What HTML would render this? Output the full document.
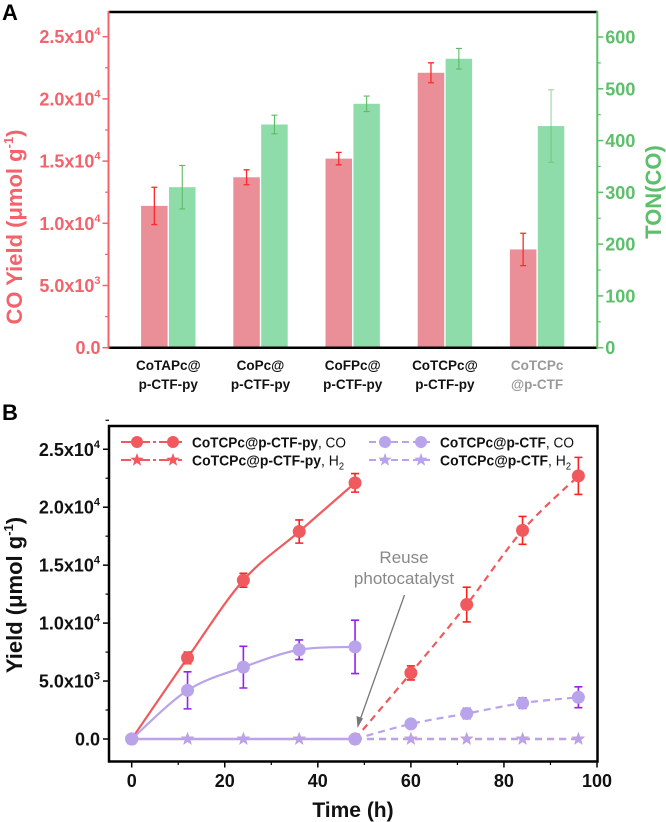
<!DOCTYPE html>
<html><head><meta charset="utf-8"><style>
html,body{margin:0;padding:0;background:#fff;}
svg{display:block;font-family:"Liberation Sans",Arial,sans-serif;}
</style></head><body>
<svg id="fig" width="666" height="822" viewBox="0 0 666 822" xmlns="http://www.w3.org/2000/svg">
<text x="2" y="20" font-size="22" font-weight="bold">A</text>
<text x="2" y="420" font-size="22" font-weight="bold">B</text>
<g id="gA"></g>
<g id="gB"></g>
</svg>
<script>
// ---- Panel A data ----
const catA1 = ["CoTAPc@","CoPc@","CoFPc@","CoTCPc@","CoTCPc"];
const catA2 = ["p-CTF-py","p-CTF-py","p-CTF-py","p-CTF-py","@p-CTF"];
const coYield = [11400,13700,15200,22100,7900];
const coYieldErr = [1500,600,500,800,1300];
const tonCO = [310,431,471,558,428];
const tonErr = [42,18,15,20,70];
const leftTicks = [0,5000,10000,15000,20000,25000];
const leftTickLabels = ["0.0","5.0x10|3","1.0x10|4","1.5x10|4","2.0x10|4","2.5x10|4"];
const rightTicks = [0,100,200,300,400,500,600];
// ---- Panel B data ----
const timeRun1 = [0,12,24,36,48];
const timeRun2 = [48,60,72,84,96];
const pyCO1 = [0,7000,13700,17900,22100];
const pyCO1Err = [0,500,600,1000,800];
const pyCO2 = [0,5700,11600,18000,22700];
const pyCO2Err = [0,600,1500,1200,1600];
const ctfCO1 = [0,4200,6200,7700,7950];
const ctfCO1Err = [0,1600,1800,850,2300];
const ctfCO2 = [0,1300,2200,3100,3600];
const ctfCO2Err = [0,300,450,450,900];
const h2Run1 = [0,0,0,0,0];
const h2Run2 = [0,0,0,0,0];
const xTicksB = [0,20,40,60,80,100];
const yTicksB = [0,5000,10000,15000,20000,25000];
const yTickLabelsB = ["0.0","5.0x10|3","1.0x10|4","1.5x10|4","2.0x10|4","2.5x10|4"];

const NS="http://www.w3.org/2000/svg";
function mk(parent,tag,attrs,text){const e=document.createElementNS(NS,tag);for(const k in attrs)e.setAttribute(k,attrs[k]);if(text!==undefined)e.textContent=text;parent.appendChild(e);return e;}
function sciLabel(g,x,y,lab,color){
  const parts=lab.split("|");
  const t=mk(g,"text",{x:x,y:y,"font-size":18,"font-weight":"bold",fill:color,"text-anchor":"end"});
  
  
  if(parts.length===1){t.textContent=parts[0];return;}
  mk(t,"tspan",{},parts[0]);
  mk(t,"tspan",{"font-size":11,dy:-8},parts[1]);
}

// ===== Panel A =====
(function(){
const g=document.getElementById("gA");
const L=108.5,R=597.3,T=12,B=347.7;
const yL=v=>B-v*124.4/10000;
const yR=v=>B-v*(B-37)/600;
const cx=i=>168.3+i*92.2;
const bw=26.5;
const red="#f2636b", green="#5cbf6a";
for(let i=0;i<coYield.length;i++){
  const r=mk(g,"rect",{x:cx(i)-bw-0.7,y:yL(coYield[i]),width:bw,height:B-yL(coYield[i]),fill:"#ea8f98"});
  
  
  const gr=mk(g,"rect",{x:cx(i)+0.7,y:yR(tonCO[i]),width:bw,height:B-yR(tonCO[i]),fill:"#8fdcab"});
  
  
  const ex=cx(i)-bw/2-0.7, gx=cx(i)+bw/2+0.7;
  const e1=mk(g,"path",{d:`M${ex},${yL(coYield[i]-coYieldErr[i])}V${yL(coYield[i]+coYieldErr[i])}M${ex-3},${yL(coYield[i]-coYieldErr[i])}h6M${ex-3},${yL(coYield[i]+coYieldErr[i])}h6`,stroke:"#ff2a2a","stroke-width":1.3,fill:"none"});
  
  
  const e2=mk(g,"path",{d:`M${gx},${yR(tonCO[i]-tonErr[i])}V${yR(tonCO[i]+tonErr[i])}M${gx-3},${yR(tonCO[i]-tonErr[i])}h6M${gx-3},${yR(tonCO[i]+tonErr[i])}h6`,stroke:"#5dbb66","stroke-width":1.1,fill:"none",opacity:i===4?0.6:1});
  
  
  const c=i===4?"#999":"#111";
  const t1=mk(g,"text",{x:cx(i),y:370,"font-size":13.5,"font-weight":"bold",fill:c,"text-anchor":"middle"},catA1[i]);
  
  
  const t2=mk(g,"text",{x:cx(i),y:389,"font-size":13.5,"font-weight":"bold",fill:c,"text-anchor":"middle"},catA2[i]);
  
  
}
const top=mk(g,"line",{x1:L,y1:T,x2:R,y2:T,stroke:"#000","stroke-width":2.5});

const bot=mk(g,"line",{x1:L,y1:B,x2:R,y2:B,stroke:"#000","stroke-width":2.5});

const la=mk(g,"line",{x1:L,y1:T-1,x2:L,y2:B+1,stroke:red,"stroke-width":2});

const ra=mk(g,"line",{x1:R,y1:T-1,x2:R,y2:B+1,stroke:green,"stroke-width":2});

for(let i=0;i<leftTicks.length;i++){
  const y=yL(leftTicks[i]);
  mk(g,"line",{x1:L-6,y1:y,x2:L,y2:y,stroke:red,"stroke-width":1.5});
  if(i<leftTicks.length-1){const ym=yL(leftTicks[i]+2500);mk(g,"line",{x1:L-3.5,y1:ym,x2:L,y2:ym,stroke:red,"stroke-width":1.2});}
  sciLabel(g,L-8,y+6.5,leftTickLabels[i],red);
}
for(let i=0;i<rightTicks.length;i++){
  const y=yR(rightTicks[i]);
  mk(g,"line",{x1:R,y1:y,x2:R+6,y2:y,stroke:green,"stroke-width":1.5});
  if(i<rightTicks.length-1){const ym=yR(rightTicks[i]+50);mk(g,"line",{x1:R,y1:ym,x2:R+3.5,y2:ym,stroke:green,"stroke-width":1.2});}
  const t=mk(g,"text",{x:R+8,y:y+6.5,"font-size":18,"font-weight":"bold",fill:green},String(rightTicks[i]));
  
}
const yt=mk(g,"text",{transform:"translate(22,227) rotate(-90)","font-size":22,"font-weight":"bold",fill:red,"text-anchor":"middle"});

mk(yt,"tspan",{},"CO Yield (μmol g");mk(yt,"tspan",{"font-size":13,dy:-9},"-1");mk(yt,"tspan",{dy:9},")");
const rt=mk(g,"text",{transform:"translate(661,192) rotate(-90)","font-size":22,"font-weight":"bold",fill:green,"text-anchor":"middle"},"TON(CO)");

})();

// ===== Panel B =====
(function(){
const g=document.getElementById("gB");
const L=109,R=597.5,T=426,B=761.5;
const x=v=>131.7+v*4.653;
const y=v=>739-v*115.9/10000;
const redC="#f05a5e", purC="#b9a3ea", redE="#ff2020", purE="#9422ee";
function smooth(xs,ys){
  const p=xs.map((v,i)=>[x(v),y(ys[i])]);
  let d=`M${p[0][0]},${p[0][1]}`;
  for(let i=0;i<p.length-1;i++){
    const p0=p[Math.max(0,i-1)],p1=p[i],p2=p[i+1],p3=p[Math.min(p.length-1,i+2)];
    d+=`C${p1[0]+(p2[0]-p0[0])/6},${p1[1]+(p2[1]-p0[1])/6} ${p2[0]-(p3[0]-p1[0])/6},${p2[1]-(p3[1]-p1[1])/6} ${p2[0]},${p2[1]}`;
  }
  return d;
}
function star(cx,cy,r){let d="";for(let k=0;k<10;k++){const a=-Math.PI/2+k*Math.PI/5;const rr=k%2?r*0.42:r;d+=(k?"L":"M")+(cx+rr*Math.cos(a)).toFixed(1)+","+(cy+rr*Math.sin(a)).toFixed(1);}return d+"Z";}
function series(xs,ys,errs,color,ecol,dash,marker,name){
  const ln=mk(g,"path",{d:smooth(xs,ys),stroke:color,"stroke-width":2.2,fill:"none","stroke-dasharray":dash?"7,5":"none"});
  
  
  for(let i=0;i<xs.length;i++){
    if(errs&&errs[i]>0){
      const eb=mk(g,"path",{d:`M${x(xs[i])},${y(ys[i]-errs[i])}V${y(ys[i]+errs[i])}M${x(xs[i])-4},${y(ys[i]-errs[i])}h8M${x(xs[i])-4},${y(ys[i]+errs[i])}h8`,stroke:ecol,"stroke-width":1.6,fill:"none"});
      
      
    }
    let m;
    if(marker==="circle") m=mk(g,"circle",{cx:x(xs[i]),cy:y(ys[i]),r:6.5,fill:color});
    else m=mk(g,"path",{d:star(x(xs[i]),y(ys[i]),7),fill:color});
    
    
  }
}
series(timeRun1,h2Run1,null,redC,redE,false,"star","py-h2-run1");
series(timeRun2,h2Run2,null,redC,redE,true,"star","py-h2-run2");
series(timeRun1,pyCO1,pyCO1Err,redC,redE,false,"circle","py-co-run1");
series(timeRun2,pyCO2,pyCO2Err,redC,redE,true,"circle","py-co-run2");
series(timeRun1,h2Run1,null,purC,purE,false,"star","ctf-h2-run1");
series(timeRun2,h2Run2,null,purC,purE,true,"star","ctf-h2-run2");
series(timeRun1,ctfCO1,ctfCO1Err,purC,purE,false,"circle","ctf-co-run1");
series(timeRun2,ctfCO2,ctfCO2Err,purC,purE,true,"circle","ctf-co-run2");
const fr=mk(g,"rect",{x:L,y:T,width:R-L,height:B-T,fill:"none",stroke:"#000","stroke-width":2.5});

for(let i=0;i<yTicksB.length;i++){
  const yy=y(yTicksB[i]);
  mk(g,"line",{x1:L-6,y1:yy,x2:L,y2:yy,stroke:"#000","stroke-width":1.5});
  const ym=y(yTicksB[i]+2500);mk(g,"line",{x1:L-3.5,y1:ym,x2:L,y2:ym,stroke:"#000","stroke-width":1.2});
  sciLabel(g,L-9,yy+6.5,yTickLabelsB[i],"#111");
}
for(let i=0;i<xTicksB.length;i++){
  const xx=x(xTicksB[i]);
  mk(g,"line",{x1:xx,y1:B,x2:xx,y2:B+6,stroke:"#000","stroke-width":1.5});
  if(i<xTicksB.length-1){const xm=x(xTicksB[i]+10);mk(g,"line",{x1:xm,y1:B,x2:xm,y2:B+3.5,stroke:"#000","stroke-width":1.2});}
  const t=mk(g,"text",{x:xx,y:787,"font-size":18,"font-weight":"bold",fill:"#111","text-anchor":"middle"},String(xTicksB[i]));
  
}
const xt=mk(g,"text",{x:353,y:817,"font-size":21,"font-weight":"bold",fill:"#111","text-anchor":"middle"},"Time (h)");

const yt=mk(g,"text",{transform:"translate(22,595) rotate(-90)","font-size":22,"font-weight":"bold",fill:"#111","text-anchor":"middle"});

mk(yt,"tspan",{},"Yield (μmol g");mk(yt,"tspan",{"font-size":13,dy:-9},"-1");mk(yt,"tspan",{dy:9},")");
const a1=mk(g,"text",{x:404,y:563,"font-size":17,fill:"#888","text-anchor":"middle"},"Reuse");

const a2=mk(g,"text",{x:404,y:584,"font-size":17,fill:"#888","text-anchor":"middle"},"photocatalyst");

const ar=mk(g,"path",{d:"M404.5,595 L360,720",stroke:"#777","stroke-width":1.3,fill:"none"});

mk(g,"path",{d:"M357.5,728 L356.5,716 L363,718.5Z",fill:"#777"});
const leg=[[121,442,redC,"circle","CoTCPc@p-CTF-py",", CO","",154],[121,460,redC,"star","CoTCPc@p-CTF-py",", H","2",152],
           [369,442,purC,"circle","CoTCPc@p-CTF",", CO","",134],[369,460,purC,"star","CoTCPc@p-CTF",", H","2",131]];
for(const l of leg){
  const lg=mk(g,"g",{});
  
  
  const dash=l[2]===redC?"10,3,3,3":"7,4";
  mk(lg,"line",{x1:l[0],y1:l[1],x2:l[0]+61,y2:l[1],stroke:l[2],"stroke-width":2,"stroke-dasharray":dash});
  if(l[3]==="circle"){mk(lg,"circle",{cx:l[0]+16,cy:l[1],r:6,fill:l[2]});mk(lg,"circle",{cx:l[0]+52,cy:l[1],r:6,fill:l[2]});}
  else{mk(lg,"path",{d:star(l[0]+16,l[1],7),fill:l[2]});mk(lg,"path",{d:star(l[0]+52,l[1],7),fill:l[2]});}
  const t=mk(lg,"text",{x:l[0]+71,y:l[1]+5.5,"font-size":15,fill:"#111",textLength:l[7],lengthAdjust:"spacingAndGlyphs"});
  mk(t,"tspan",{"font-weight":"bold"},l[4]);mk(t,"tspan",{},l[5]);
  if(l[6])mk(t,"tspan",{"font-size":10,dy:4},l[6]);
}
})();
</script>
</body></html>
